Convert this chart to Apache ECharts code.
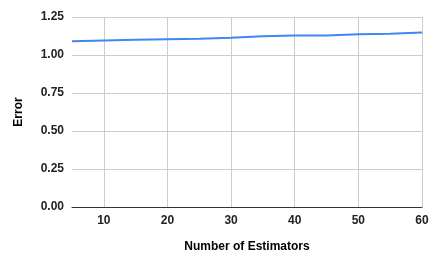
<!DOCTYPE html>
<html>
<head>
<meta charset="utf-8">
<script src="https://cdn.jsdelivr.net/npm/echarts@6/dist/echarts.min.js"></script>
<style>html,body{margin:0;padding:0;background:#fff}#c{width:436px;height:261px}</style>
</head>
<body>
<div id="c"></div>
<script>
const estimators = [5, 10, 15, 20, 25, 30, 35, 40, 45, 50, 55, 60];
const errorValues = [1.090, 1.095, 1.100, 1.104, 1.107, 1.114, 1.124, 1.128, 1.128, 1.137, 1.140, 1.148];
const xTicks = [10, 20, 30, 40, 50, 60];
const yTicks = [0, 0.25, 0.5, 0.75, 1.0, 1.25];

const chart = echarts.init(document.getElementById('c'), null, {renderer: 'canvas'});
const font = 'Liberation Sans, Arial, sans-serif';
chart.setOption({
  animation: false,
  grid: {left: 72, right: 14, top: 17, bottom: 54, containLabel: false},
  xAxis: {
    type: 'value', min: 5, max: 60,
    name: 'Number of Estimators', nameLocation: 'middle', nameGap: 34,
    nameTextStyle: {fontFamily: font, fontWeight: 'bold', fontSize: 12, color: '#000'},
    axisLine: {show: true, onZero: false, lineStyle: {color: '#333', width: 1}},
    axisTick: {show: false, customValues: xTicks},
    axisLabel: {customValues: xTicks, fontFamily: font, fontWeight: 'bold', fontSize: 12, color: '#222', margin: 8},
    splitLine: {show: true, lineStyle: {color: '#cccccc', width: 1}}
  },
  yAxis: {
    type: 'value', min: yTicks[0], max: yTicks[yTicks.length - 1], interval: 0.25,
    name: 'Error', nameLocation: 'middle', nameGap: 47, nameRotate: 90,
    nameTextStyle: {fontFamily: font, fontWeight: 'bold', fontSize: 12, color: '#000'},
    axisLine: {show: false},
    axisTick: {show: false},
    axisLabel: {formatter: v => v.toFixed(2), fontFamily: font, fontWeight: 'bold', fontSize: 12, color: '#222', margin: 8},
    splitLine: {show: true, lineStyle: {color: '#cccccc', width: 1}}
  },
  series: [{
    type: 'line',
    data: estimators.map((x, i) => [x, errorValues[i]]),
    showSymbol: false,
    lineStyle: {color: '#4285f4', width: 2},
    itemStyle: {color: '#4285f4'}
  }]
});
</script>
</body>
</html>
